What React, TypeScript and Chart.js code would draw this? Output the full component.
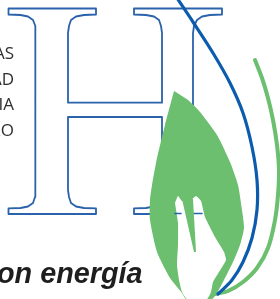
import React, { useEffect, useRef } from "react";
import { Chart, registerables } from "chart.js";

Chart.register(...registerables);

// ---- shape data (pixel space 280 x 299) ----
const hOutlineX = [
  8.5, 96, 96, 84, 76, 71, 69, 68, 68, 162, 162, 161, 159, 154, 146, 134, 134, 222, 222, 210, 202, 197, 194, 193,
  193, 194, 197, 202, 210, 222, 222, 134, 134, 146, 154, 159, 161, 162, 162, 68, 68, 69, 71, 76, 84, 96, 96, 8.5,
  8.5, 20.5, 28, 33, 35, 35.5, 35.5, 35, 33, 28, 20.5, 8.5, 8.5,
];
const hOutlineY = [
  8.5, 8.5, 14.5, 15, 16.5, 20, 26, 33, 102.7, 102.7, 33, 26, 20, 16.5, 15, 14.5, 8.5, 8.5, 14.5, 15, 16.5, 20, 26, 33,
  190, 197, 203, 206.5, 208, 208.3, 214, 214, 208.3, 208, 206.5, 203, 197, 190, 117, 117, 190, 197, 203, 206.5, 208, 208.3, 214, 214,
  208.3, 208, 206.5, 203, 197, 190, 33, 26, 20, 16.5, 15, 14.5, 8.5,
];

const blueCurveX = [177, 193, 213, 230, 243, 252, 257, 257, 252, 243, 232, 218];
const blueCurveY = [-2, 22, 53, 83, 113, 147, 180, 210, 238, 262, 280, 294];

const greenCurveX = [255, 262, 268, 273, 277, 279, 278, 275, 268, 257, 243, 228, 215];
const greenCurveY = [60, 78, 98, 120, 145, 170, 195, 220, 248, 268, 282, 291, 294];

const leafX = [174, 188, 200, 217, 230, 238, 242, 244, 240, 233, 224, 217, 212, 186, 182, 170, 157, 150, 150, 152, 157, 165, 174];
const leafY = [91, 100, 112, 135, 162, 185, 210, 228, 245, 262, 280, 293, 299, 299, 293, 278, 252, 220, 200, 185, 158, 125, 91];

// white brush-stroke gap in the lower leaf
const gapX = [175, 178, 182, 190, 196, 201, 205, 215, 224, 226, 219, 213, 211, 207, 187, 182, 179, 177, 178, 178, 175];
const gapY = [203, 196, 201, 201, 196, 201, 217, 237, 252, 260, 272, 282, 292, 299, 299, 292, 280, 265, 245, 223, 203];
// green wedge between the two white strokes
const wedgeX = [182, 193, 196, 194, 182];
const wedgeY = [199, 199, 252, 252, 199];

const serifBitAX = [175, 181];
const serifBitAY = [213.5, 213.5];
const serifBitBX = [192, 202];
const serifBitBY = [213.5, 213.5];

const sideLabels = ["AS", "AD", "IA", "RO"];
const sideBaselines = [59, 85.5, 110.5, 136];
const sloganText = "on energía";

const pts = (xs: number[], ys: number[]) => xs.map((x, i) => ({ x, y: ys[i] }));

const BLUE_LINE = "#0c5cad";
const H_BLUE = "#2a62ab";
const GREEN = "#6bbf6f";

export default function App() {
  const canvasRef = useRef<HTMLCanvasElement | null>(null);

  useEffect(() => {
    if (!canvasRef.current) return;
    const poly = (xs: number[], ys: number[], color: string, tension = 0) => ({
      data: pts(xs, ys),
      backgroundColor: color,
      borderColor: color,
      borderWidth: 0,
      fill: "shape",
      tension,
      pointRadius: 0,
      clip: false,
    });
    const line = (xs: number[], ys: number[], color: string, w: number, tension: number) => ({
      data: pts(xs, ys),
      borderColor: color,
      backgroundColor: color,
      borderWidth: w,
      borderCapStyle: "round",
      borderJoinStyle: "round",
      fill: false,
      tension,
      pointRadius: 0,
      clip: false,
    });
    const chart = new Chart(canvasRef.current, {
      type: "line",
      data: {
        datasets: [
          line(blueCurveX, blueCurveY, BLUE_LINE, 3.2, 0.35),
          line(greenCurveX, greenCurveY, GREEN, 4, 0.35),
          poly(wedgeX, wedgeY, GREEN),
          line(serifBitAX, serifBitAY, H_BLUE, 1.6, 0),
          line(serifBitBX, serifBitBY, H_BLUE, 1.6, 0),
          poly(gapX, gapY, "#ffffff", 0.15),
          poly(leafX, leafY, GREEN, 0.2),
          line(hOutlineX, hOutlineY, H_BLUE, 1.8, 0),
        ] as any,
      },
      options: {
        animation: false,
        responsive: true,
        maintainAspectRatio: false,
        events: [],
        layout: { padding: 0 },
        plugins: { legend: { display: false }, tooltip: { enabled: false } },
        scales: {
          x: { type: "linear", min: 0, max: 280, display: false },
          y: { type: "linear", min: 0, max: 299, reverse: true, display: false },
        },
      } as any,
    });
    return () => chart.destroy();
  }, []);

  return (
    <div
      style={{
        position: "fixed",
        left: 0,
        top: 0,
        width: 280,
        height: 299,
        background: "#ffffff",
        overflow: "hidden",
      }}
    >
      <canvas ref={canvasRef} />
      {sideLabels.map((t, i) => (
        <div
          key={t}
          style={{
            position: "absolute",
            right: 266,
            top: sideBaselines[i] - 15.1,
            fontFamily: "'Open Sans', sans-serif",
            fontSize: 17,
            lineHeight: "17px",
            color: "#2e2e2e",
            whiteSpace: "nowrap",
          }}
        >
          {t}
        </div>
      ))}
      <div
        style={{
          position: "absolute",
          left: -3,
          top: 283 - 25.4,
          fontFamily: "'Liberation Sans', sans-serif",
          fontWeight: 700,
          fontStyle: "italic",
          fontSize: 30,
          lineHeight: "30px",
          color: "#1e1e1e",
          whiteSpace: "nowrap",
          transform: "scaleX(0.96)",
          transformOrigin: "left center",
        }}
      >
        {sloganText}
      </div>
    </div>
  );
}
